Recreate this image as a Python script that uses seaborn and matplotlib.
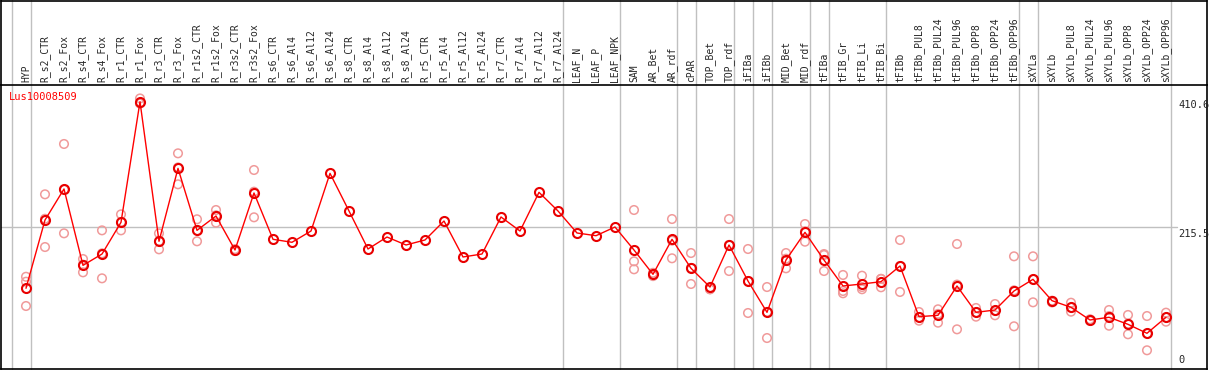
import numpy as np
import pandas as pd
import matplotlib.pyplot as plt
import seaborn as sns
from matplotlib.lines import Line2D

# amostras (eixo x)
samples = ['HYP', 'R_s2_CTR', 'R_s2_Fox', 'R_s4_CTR', 'R_s4_Fox', 'R_r1_CTR', 'R_r1_Fox',
           'R_r3_CTR', 'R_r3_Fox', 'R_r1s2_CTR', 'R_r1s2_Fox', 'R_r3s2_CTR', 'R_r3s2_Fox',
           'R_s6_CTR', 'R_s6_Al4', 'R_s6_Al12', 'R_s6_Al24', 'R_s8_CTR', 'R_s8_Al4',
           'R_s8_Al12', 'R_s8_Al24', 'R_r5_CTR', 'R_r5_Al4', 'R_r5_Al12', 'R_r5_Al24',
           'R_r7_CTR', 'R_r7_Al4', 'R_r7_Al12', 'R_r7_Al24', 'LEAF_N', 'LEAF_P', 'LEAF_NPK',
           'SAM', 'AR_Bet', 'AR_rdf', 'cPAR', 'TOP_Bet', 'TOP_rdf', 'iFIBa', 'iFIBb',
           'MID_Bet', 'MID_rdf', 'tFIBa', 'tFIB_Gr', 'tFIB_Li', 'tFIB_Bi', 'tFIBb',
           'tFIBb_PUL8', 'tFIBb_PUL24', 'tFIBb_PUL96', 'tFIBb_OPP8', 'tFIBb_OPP24',
           'tFIBb_OPP96', 'sXYLa', 'sXYLb', 'sXYLb_PUL8', 'sXYLb_PUL24', 'sXYLb_PUL96',
           'sXYLb_OPP8', 'sXYLb_OPP24', 'sXYLb_OPP96']

# media da expressao
mean_expr = [122.5, 226.1, 273.2, 157.3, 174.5, 222.6, 405.7, 193.8, 304.5, 210.4, 232.2,
             180.6, 267.1, 196.8, 192.3, 209.4, 296.9, 239.8, 182.1, 200.3, 188.2, 195.8,
             224.6, 170.0, 174.5, 230.7, 209.4, 268.1, 239.8, 206.4, 202.3, 215.5,
             180.6, 143.7, 196.8, 152.8, 124.4, 188.2, 133.5, 86.0, 165.4, 207.4, 165.4,
             126.0, 129.0, 132.5, 156.3, 79.4, 81.5, 126.0, 86.0, 89.5, 118.4, 136.1,
             103.7, 93.6, 74.4, 78.5, 67.8, 54.2, 78.5]

# replicas (NaN = sem replica)
nan = np.nan
rep1 = [140.0, 265.1, 341.5, 166.9, 210.4, 234.7, 410.6, 205.9, 327.3, 227.2, 241.3,
        182.0, 302.0] + [nan] * 16 + [nan, nan, nan,
        241.3, 146.0, 227.6, 176.0, 121.0, 227.6, 182.1, 124.4, 176.0, 220.0, 174.5,
        142.7, 141.6, 136.6, 195.8, 86.5, 90.6, 189.7, 92.6, 98.6, 171.0, 171.0,
        102.0, 100.6, 75.5, 89.5, 82.0, 80.4, 85.5]
rep2 = [132.5, 228.0, 272.2, 158.3, 175.5, 222.7, 403.0, 193.9, 305.9, 210.2, 233.2,
        180.0, 269.1] + [nan] * 16 + [nan, nan, nan,
        163.4, 143.7, 194.8, 153.4, 124.0, 188.3, 133.4, 86.6, 167.4, 209.0, 173.0,
        118.4, 124.4, 136.9, 156.2, 78.4, 83.6, 128.1, 86.0, 88.4, 119.4, 136.1,
        103.7, 93.2, 74.4, 80.3, 68.7, 53.8, 78.2]
rep3 = [95.6, 185.1, 205.9, 146.7, 137.6, 210.4, 403.2, 181.6, 280.3, 193.8, 222.1,
        179.0, 230.2] + [nan] * 16 + [nan, nan, nan,
        151.3, 141.0, 168.0, 129.0, 121.0, 148.7, 85.0, 47.0, 152.8, 193.2, 148.7,
        114.9, 121.0, 124.0, 116.9, 73.3, 70.3, 60.2, 79.4, 81.5, 64.8, 101.2,
        101.0, 87.0, 73.0, 65.7, 52.7, 28.4, 71.8]

# separadores de grupo (depois da coluna i)
group_breaks = [-1, 0, 28, 31, 34, 35, 37, 38, 39, 41, 42, 45, 52, 53, 60]

gene = 'Lus10008509'
y_labels = [410.6, 215.5, 0]

sns.set_style('white')
plt.rcParams['font.family'] = ['DejaVu Sans Mono', 'DejaVu Sans']

W, H = 1209, 370
fig = plt.figure(figsize=(W / 100, H / 100), dpi=100)
left, right, top, bottom = 1, 1207, 85, 369
ax = fig.add_axes([left / W, (H - bottom) / H, (right - left) / W, (bottom - top) / H])

x = np.arange(len(samples))
df_mean = pd.DataFrame({'x': x, 'expr': mean_expr})
df_rep = pd.DataFrame({'x': np.tile(x, 3), 'expr': rep1 + rep2 + rep3}).dropna()

# grade
ymax_fig = bottom / (bottom - top)
for b in group_breaks:
    ax.axvline(b + 0.25, ymin=0, ymax=ymax_fig, color='#c0c0c0', lw=1, clip_on=False, zorder=0)
ax.axhline(215.5, xmin=0, xmax=(1177 - left) / (right - left), color='#c0c0c0', lw=1, zorder=0)

sns.scatterplot(data=df_rep, x='x', y='expr', ax=ax, marker='o', s=38,
                facecolor='none', edgecolor='#f09a9a', linewidth=1.1, zorder=2)
sns.lineplot(data=df_mean, x='x', y='expr', ax=ax, color='#ff0000', lw=1,
             marker='o', markersize=6.5, markerfacecolor='none',
             markeredgecolor='#e80000', markeredgewidth=1.5, zorder=3)

ax.set_xlim(-25 / 19, (right - 26) / 19)
ax.set_ylim(0, 431)
ax.set_xlabel('')
ax.set_ylabel('')
ax.set_yticks([])
ax.set_xticks(x)
ax.xaxis.tick_top()
ax.set_xticklabels(samples, rotation=90, fontsize=7)
ax.tick_params(axis='x', length=0, pad=2)
for s in ax.spines.values():
    s.set_color('black')
    s.set_linewidth(1.2)

# rotulos do eixo y (lado direito)
xl = (1178 - 26) / 19
ax.text(xl, y_labels[0] - 3, '410.6', va='top', ha='left', fontsize=7.5)
ax.text(xl, y_labels[1] - 3, '215.5', va='top', ha='left', fontsize=7.5)
ax.text(xl, y_labels[2] + 6, '0', va='bottom', ha='left', fontsize=7.5)

fig.text(9 / W, 1 - 92 / H, gene, color='#ff0000', fontsize=7.5, va='top', ha='left')

# moldura externa
fig.add_artist(Line2D([left / W, right / W], [1 - 0.6 / H, 1 - 0.6 / H], color='black', lw=1.2))
fig.add_artist(Line2D([left / W, left / W], [1 - top / H, 1], color='black', lw=1.2))
fig.add_artist(Line2D([right / W, right / W], [1 - top / H, 1], color='black', lw=1.2))

fig.savefig('out.png', dpi=100)
